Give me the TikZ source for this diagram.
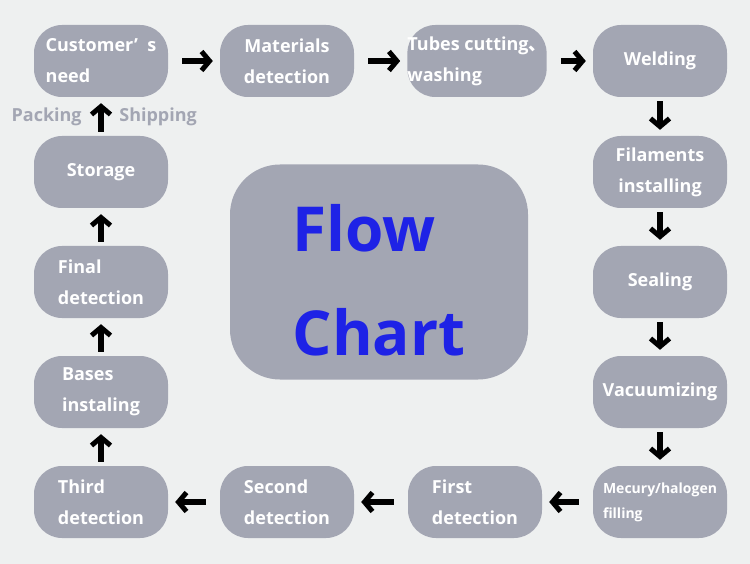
\documentclass[tikz,border=0pt]{standalone}
\usepackage{fontspec}
\setmainfont{Open Sans}
\newfontfamily\cjkfont{Noto Sans CJK SC}
\usetikzlibrary{arrows.meta}
\definecolor{bgcol}{HTML}{EEF0F0}
\definecolor{boxcol}{HTML}{A3A6B3}
\definecolor{titleblue}{HTML}{1E22E6}
\tikzset{
  stage/.style={fill=boxcol, rounded corners=28pt, minimum width=134pt, minimum height=72pt,
    text=white, font=\bfseries\fontsize{18}{31}\selectfont, align=left, inner sep=0pt},
  hflow/.style={-{Straight Barb[length=8pt,width=19pt,line width=5pt]}, line width=6pt, shorten <=14pt, shorten >=7pt},
  vflow/.style={-{Straight Barb[length=8pt,width=19pt,line width=5pt]}, line width=6pt, shorten <=4pt, shorten >=6pt},
  sidelabel/.style={text=boxcol, font=\bfseries\fontsize{18}{20}\selectfont}
}
\begin{document}
\begin{tikzpicture}[x=1pt, y=-1pt]
  % Background
  \fill[bgcol] (0,0) rectangle (750,564);
  \useasboundingbox (0,0) rectangle (750,564);

  % Top row
  \node[stage] (cust) at (101,61) {Customer’\ \ s\\need};
  \node[stage, align=center] (mat) at (287,61) {Materials\\detection};
  \node[stage] (tube) at (477,61) {Tubes cutting{\cjkfont 、}\\washing};
  \node[stage, align=center] (weld) at (660,61) {Welding};

  % Right column
  \node[stage, align=center] (fil) at (660,172) {Filaments\\installing};
  \node[stage, align=center] (seal) at (660,282) {Sealing};
  \node[stage, align=center] (vac) at (660,392) {Vacuumizing};
  \node[stage, font=\bfseries\fontsize{14}{25}\selectfont] (merc) at (660,502) {Mecury/halogen\\filling};

  % Bottom row
  \node[stage] (first) at (475,502) {First\\detection};
  \node[stage] (second) at (287,502) {Second\\detection};
  \node[stage] (third) at (101,502) {Third\\detection};

  % Left column
  \node[stage] (bases) at (101,392) {Bases\\instaling};
  \node[stage] (final) at (101,282) {Final\\detection};
  \node[stage, align=center] (store) at (101,172) {Storage};

  % Centre title
  \node[fill=boxcol, rounded corners=50pt, minimum width=298pt, minimum height=215pt,
    text=titleblue, font=\bfseries\fontsize{62}{104}\selectfont, align=left] (title) at (379,272)
    {\rule{0pt}{64pt}Flow\\Chart};

  % Arrows
  \draw[hflow] (cust) -- (mat);
  \draw[hflow] (mat) -- (tube);
  \draw[hflow] (tube) -- (weld);
  \draw[vflow] (weld) -- (fil);
  \draw[vflow] (fil) -- (seal);
  \draw[vflow] (seal) -- (vac);
  \draw[vflow] (vac) -- (merc);
  \draw[hflow] (merc) -- (first);
  \draw[hflow] (first) -- (second);
  \draw[hflow] (second) -- (third);
  \draw[vflow] (third) -- (bases);
  \draw[vflow] (bases) -- (final);
  \draw[vflow] (final) -- (store);
  \draw[vflow] (store) -- (cust)
    node[midway, sidelabel, left=13pt] {Packing}
    node[midway, sidelabel, right=12pt] {Shipping};
\end{tikzpicture}
\end{document}
